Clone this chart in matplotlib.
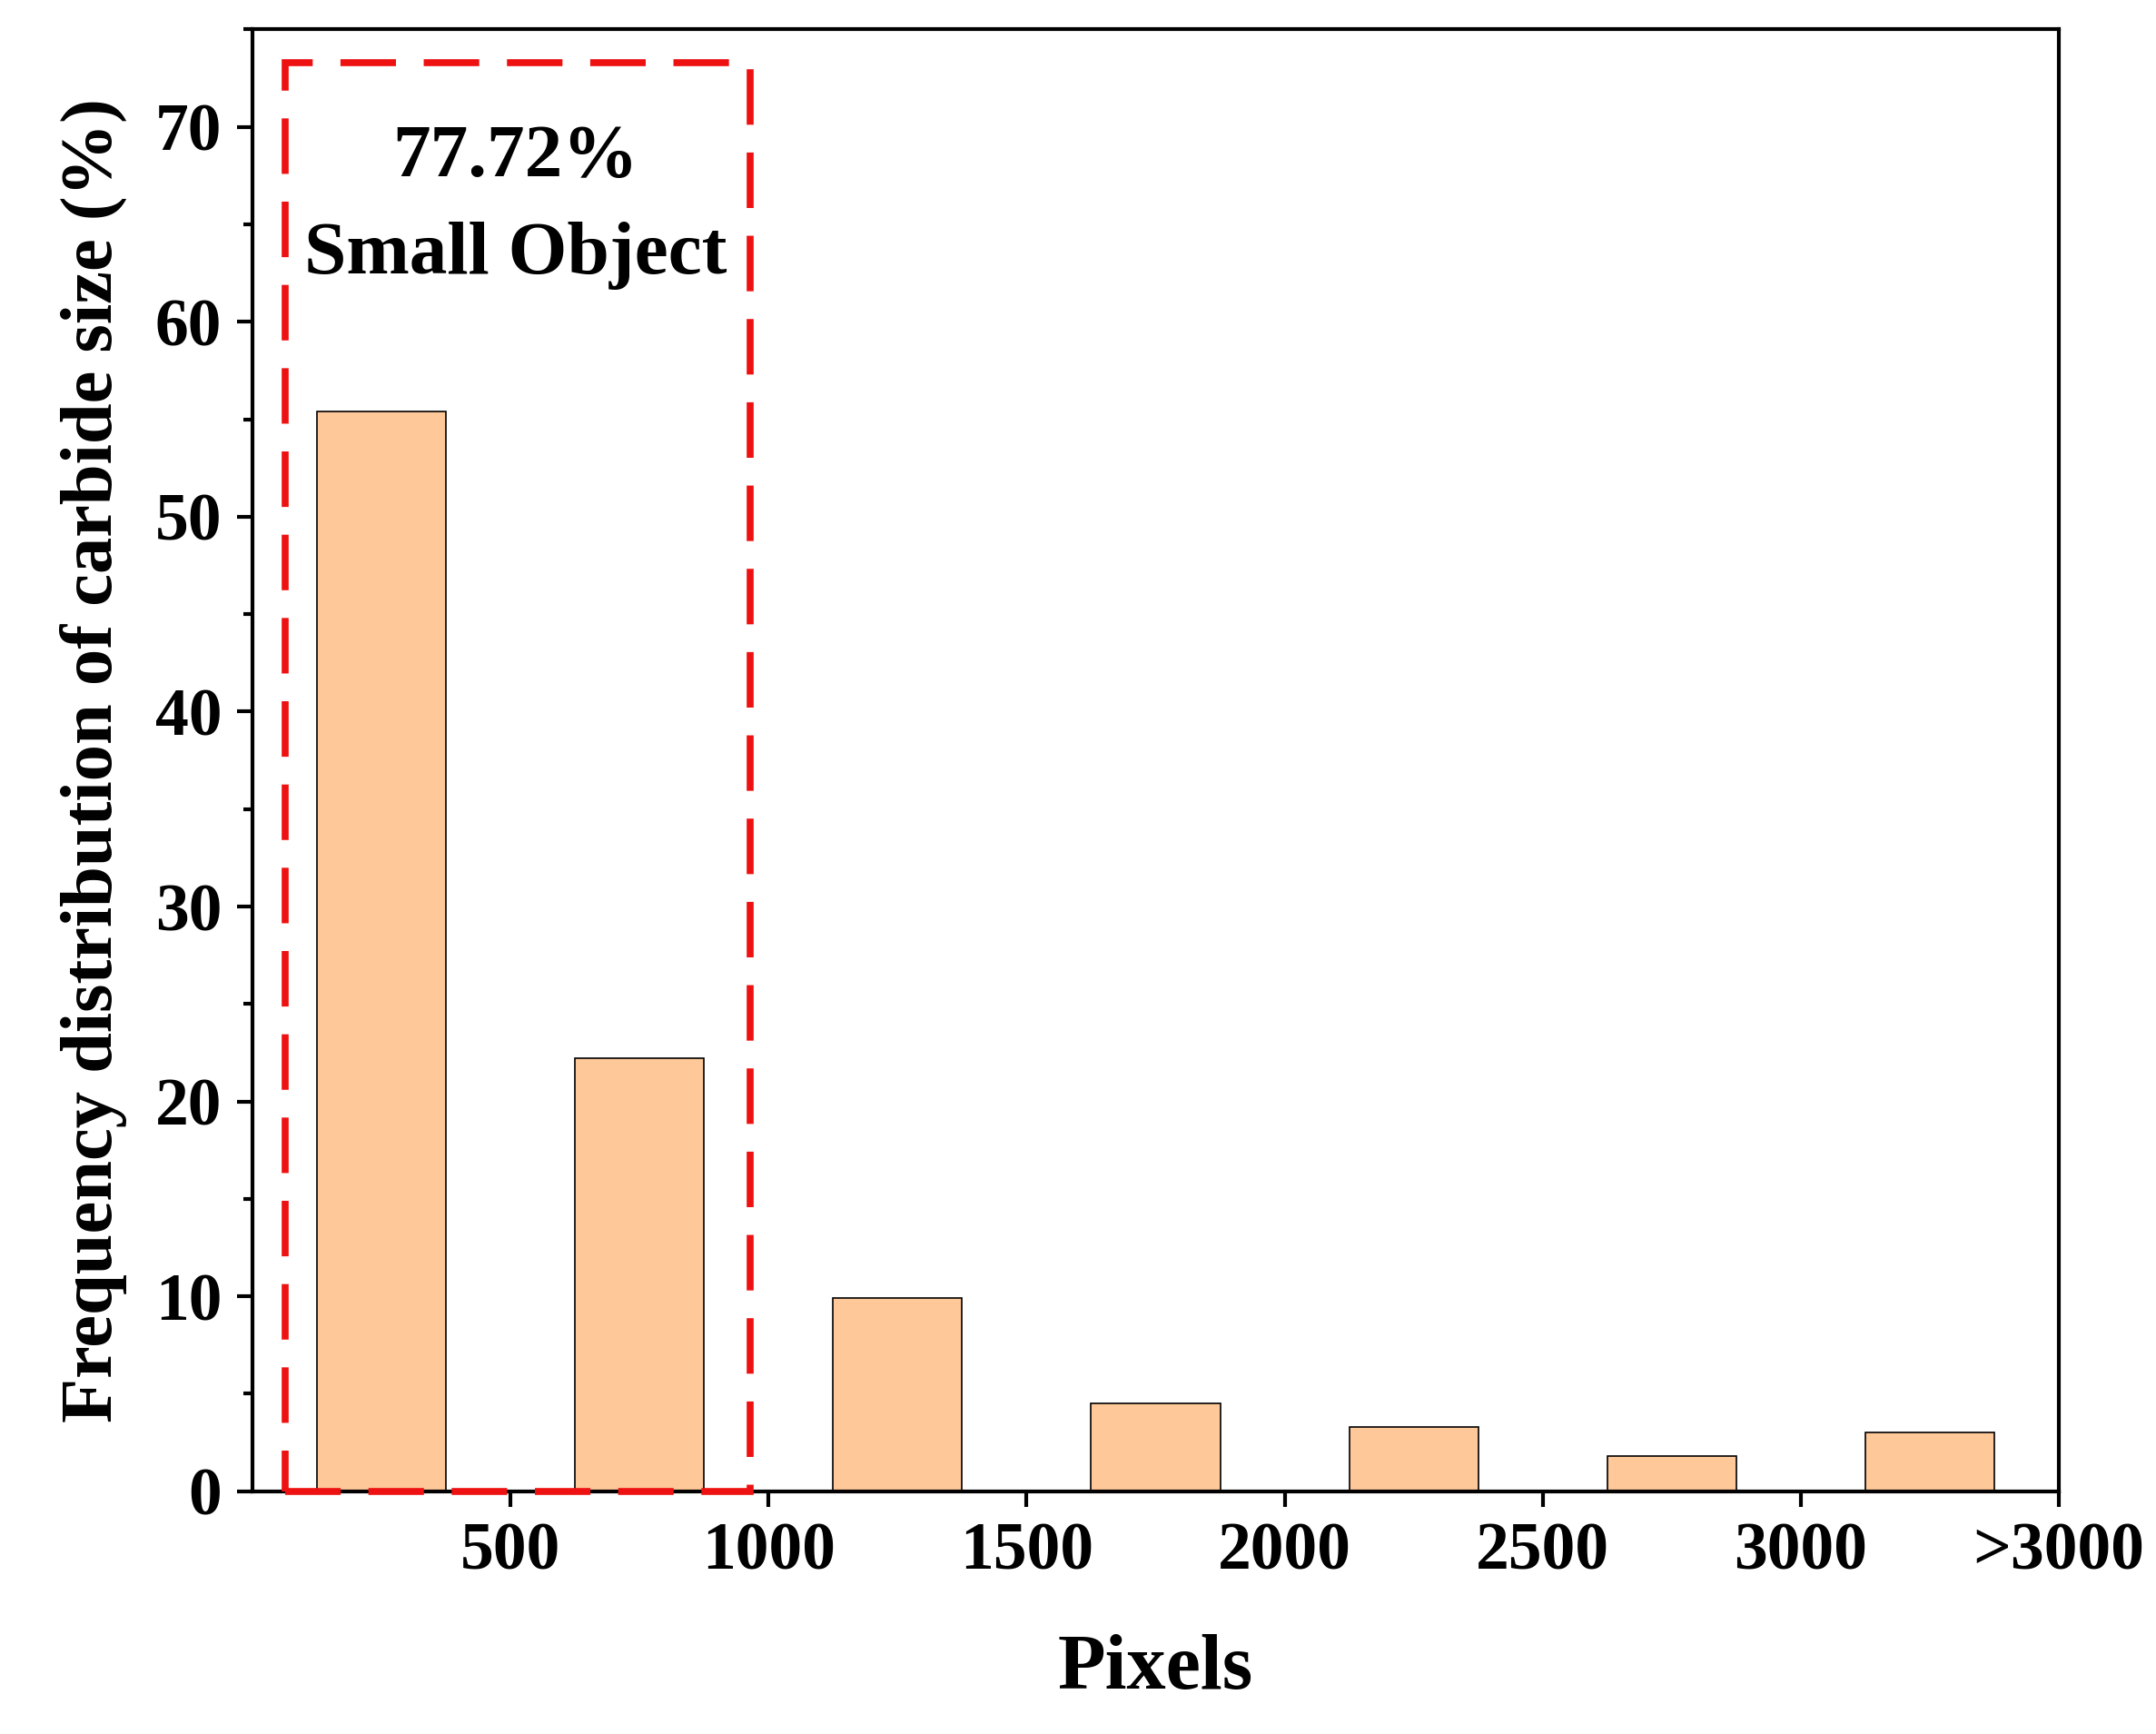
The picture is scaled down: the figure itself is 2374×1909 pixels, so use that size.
import matplotlib.pyplot as plt
from matplotlib.patches import Rectangle

plt.rcParams['font.family'] = ['Liberation Serif', 'DejaVu Serif']
plt.rcParams['font.weight'] = 'bold'

centers = [250, 750, 1250, 1750, 2250, 2750, 3250]
freq = [55.4, 22.2, 9.9, 4.5, 3.3, 1.8, 3.0]
tick_pos = [500, 1000, 1500, 2000, 2500, 3000, 3500]
tick_labels = ['500', '1000', '1500', '2000', '2500', '3000', '>3000']

fig = plt.figure(figsize=(23.74, 19.09), dpi=100)
ax = fig.add_axes([0.117, 0.140, 0.838, 0.843])
ax.bar(centers, freq, width=250, color='#FFC899', edgecolor='black', linewidth=1.2, zorder=2)

ax.set_xlim(0, 3500)
ax.set_ylim(0, 75)
ax.set_xticks(tick_pos)
ax.set_xticklabels(tick_labels)
ax.set_yticks(range(0, 71, 10))
ax.set_yticks(range(5, 76, 10), minor=True)
ax.tick_params(axis='both', labelsize=53, width=3, length=12, pad=12)
ax.tick_params(axis='y', which='minor', width=3, length=7)
for s in ax.spines.values():
    s.set_linewidth(3)

ax.set_xlabel('Pixels', fontsize=62, fontweight='bold', labelpad=40)
ax.set_ylabel('Frequency distribution of carbide size (%)', fontsize=58, fontweight='bold', labelpad=22)

box = Rectangle((64, 0), 900, 73.3, fill=False, edgecolor='#EE1111', linewidth=5.5,
                linestyle=(0, (8, 4)), zorder=3, clip_on=False)
ax.add_patch(box)
ax.text(510, 68.4, '77.72%', ha='center', va='center', fontsize=60, fontweight='bold')
ax.text(510, 63.4, 'Small Object', ha='center', va='center', fontsize=60, fontweight='bold')

fig.savefig('out.png', dpi=100)
